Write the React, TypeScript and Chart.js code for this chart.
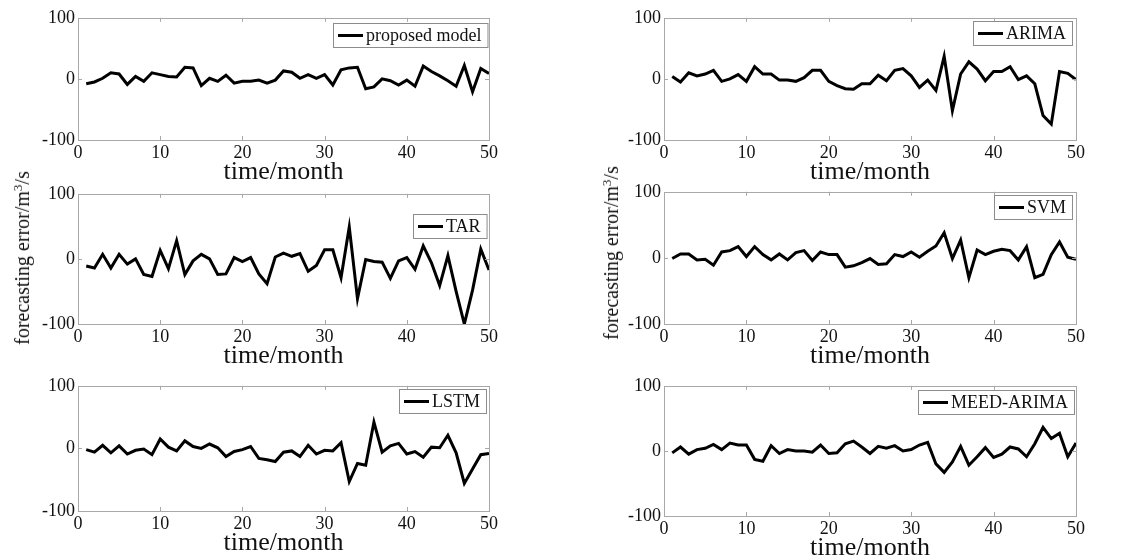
import React, { useEffect, useRef } from "react";
import { Chart, registerables } from "chart.js";

Chart.register(...registerables);

// ---------- data ----------
const months = [
  1, 2, 3, 4, 5, 6, 7, 8, 9, 10, 11, 12, 13, 14, 15, 16, 17, 18, 19, 20, 21, 22, 23, 24, 25,
  26, 27, 28, 29, 30, 31, 32, 33, 34, 35, 36, 37, 38, 39, 40, 41, 42, 43, 44, 45, 46, 47, 48, 49, 50,
];

const proposedModel = [
  -8, -5, 1, 10, 8, -9, 4, -4, 10, 7, 4, 3, 19, 18, -11, 1, -4, 6, -7, -4, -4, -2, -7, -2, 13,
  11, 1, 7, 1, 7, -10, 15, 18, 19, -16, -13, 0, -3, -10, -2, -12, 21, 12, 5, -3, -12, 22, -21, 17, 9,
];

const arima = [
  4, -5, 10, 5, 8, 14, -4, 0, 7, -4, 20, 8, 8, -2, -2, -4, 2, 14, 14, -4, -11, -16, -17, -8, -8,
  6, -3, 14, 17, 5, -14, -2, -19, 37, -52, 8, 28, 16, -3, 12, 12, 20, -1, 5, -8, -60, -74, 12, 9, -1,
];

const tar = [
  -11, -14, 7, -14, 7, -8, 0, -24, -27, 13, -15, 28, -24, -3, 7, 0, -24, -23, 2, -4, 2, -23, -38, 3, 9,
  4, 8, -19, -10, 14, 14, -29, 49, -61, -1, -4, -5, -30, -3, 2, -16, 20, -6, -41, 5, -50, -100, -48, 15, -17,
];

const svm = [
  -1, 6, 6, -3, -2, -11, 9, 11, 17, 2, 17, 5, -3, 6, -3, 8, 11, -4, 9, 5, 5, -14, -12, -7, -1,
  -10, -9, 5, 2, 9, 1, 10, 18, 38, -1, 27, -30, 12, 5, 10, 13, 11, -3, 17, -30, -25, 5, 24, 1, -2,
];

const lstm = [
  -2, -6, 5, -7, 4, -9, -3, -1, -10, 15, 2, -4, 12, 3, 0, 7, 1, -13, -5, -2, 3, -16, -18, -21, -6,
  -4, -13, 5, -9, -3, -4, 9, -53, -24, -27, 42, -6, 4, 8, -9, -5, -14, 2, 1, 21, -7, -56, -33, -10, -8,
];

const meedArima = [
  -3, 6, -5, 2, 4, 10, 2, 12, 9, 9, -13, -16, 8, -4, 2, 0, 0, -2, 9, -4, -3, 11, 15, 6, -4,
  7, 4, 8, 0, 2, 9, 13, -20, -33, -17, 7, -22, -9, 5, -10, -5, 6, 3, -9, 11, 36, 19, 27, -9, 12,
];

const xTickValues = [0, 10, 20, 30, 40, 50];
const yTickValues = [-100, 0, 100];
const xTitle = "time/month";

// ---------- layout / style ----------
const SERIF = '"Liberation Serif", "Times New Roman", Times, serif';
const Y_AXIS_W = 60;
const X_AXIS_H = 48;
const PAD_T = 12;
const PAD_R = 14;

type Panel = {
  label: string;
  values: number[];
  area: { l: number; r: number; t: number; b: number };
  legend: { top: number; right: number };
};

const panels: Panel[] = [
  { label: "proposed model", values: proposedModel, area: { l: 78, r: 489, t: 16, b: 140 }, legend: { top: 5, right: 2 } },
  { label: "ARIMA", values: arima, area: { l: 664, r: 1076, t: 16, b: 140 }, legend: { top: 3, right: 4 } },
  { label: "TAR", values: tar, area: { l: 78, r: 489, t: 192, b: 324 }, legend: { top: 20, right: 2 } },
  { label: "SVM", values: svm, area: { l: 664, r: 1076, t: 190, b: 324 }, legend: { top: 3, right: 4 } },
  { label: "LSTM", values: lstm, area: { l: 78, r: 489, t: 384, b: 511 }, legend: { top: 3, right: 3 } },
  { label: "MEED-ARIMA", values: meedArima, area: { l: 664, r: 1076, t: 384, b: 516 }, legend: { top: 4, right: 2 } },
];

const framePlugin = {
  id: "frameBox",
  afterDraw(chart: any) {
    const { ctx, chartArea } = chart;
    const { left, right, top, bottom } = chartArea;
    const xs = chart.scales.x;
    const ys = chart.scales.y;
    ctx.save();
    ctx.strokeStyle = "#a8a8a8";
    ctx.lineWidth = 1;
    ctx.strokeRect(Math.round(left) + 0.5, Math.round(top) + 0.5, Math.round(right - left), Math.round(bottom - top));
    // inward tick marks
    ctx.beginPath();
    xTickValues.slice(1, -1).forEach((v) => {
      const px = Math.round(xs.getPixelForValue(v)) + 0.5;
      ctx.moveTo(px, bottom);
      ctx.lineTo(px, bottom - 4);
      ctx.moveTo(px, top);
      ctx.lineTo(px, top + 4);
    });
    yTickValues.slice(1, -1).forEach((v) => {
      const py = Math.round(ys.getPixelForValue(v)) + 0.5;
      ctx.moveTo(left, py);
      ctx.lineTo(left + 4, py);
      ctx.moveTo(right, py);
      ctx.lineTo(right - 4, py);
    });
    ctx.stroke();
    ctx.restore();
  },
};

const boxLegendPlugin = {
  id: "boxLegend",
  afterDraw(chart: any, _args: any, opts: any) {
    const { ctx, chartArea } = chart;
    const label = chart.data.datasets[0].label as string;
    ctx.save();
    ctx.font = `18px ${SERIF}`;
    const tw = ctx.measureText(label).width;
    const w = 5 + 25 + 3 + tw + 6;
    const h = 24;
    const x = Math.round(chartArea.right - opts.right - w);
    const y = Math.round(chartArea.top + opts.top);
    ctx.fillStyle = "#ffffff";
    ctx.fillRect(x, y, w, h);
    ctx.strokeStyle = "#8c8c8c";
    ctx.lineWidth = 1;
    ctx.strokeRect(x + 0.5, y + 0.5, w, h);
    ctx.strokeStyle = "#000000";
    ctx.lineWidth = 3;
    ctx.beginPath();
    ctx.moveTo(x + 5, y + h / 2 + 0.5);
    ctx.lineTo(x + 30, y + h / 2 + 0.5);
    ctx.stroke();
    ctx.fillStyle = "#111111";
    ctx.textBaseline = "middle";
    ctx.textAlign = "left";
    ctx.fillText(label, x + 33, y + h / 2 + 1);
    ctx.restore();
  },
};

function PanelChart({ panel }: { panel: Panel }) {
  const ref = useRef<HTMLCanvasElement | null>(null);
  const { l, r, t, b } = panel.area;
  const left = l - Y_AXIS_W;
  const top = t - PAD_T;
  const width = r + PAD_R - left;
  const height = b + X_AXIS_H - top;

  useEffect(() => {
    if (!ref.current) return;
    const chart = new Chart(ref.current, {
      type: "line",
      data: {
        datasets: [
          {
            label: panel.label,
            data: months.map((m, i) => ({ x: m, y: panel.values[i] })),
            borderColor: "#000000",
            borderWidth: 3,
            pointRadius: 0,
            tension: 0,
            fill: false,
          },
        ],
      },
      options: {
        animation: false,
        responsive: false,
        maintainAspectRatio: false,
        devicePixelRatio: 1,
        layout: { padding: { left: 0, top: PAD_T, right: PAD_R, bottom: 0 } },
        plugins: {
          legend: { display: false },
          tooltip: { enabled: false },
          boxLegend: { top: panel.legend.top, right: panel.legend.right },
        } as any,
        scales: {
          x: {
            type: "linear",
            min: 0,
            max: 50,
            afterBuildTicks: (s: any) => {
              s.ticks = xTickValues.map((v) => ({ value: v }));
            },
            afterFit: (s: any) => {
              s.height = X_AXIS_H;
            },
            grid: { display: false, drawTicks: false },
            border: { display: false },
            ticks: {
              font: { family: SERIF, size: 18 },
              color: "#111111",
              padding: 2,
              maxRotation: 0,
              autoSkip: false,
            },
            title: {
              display: true,
              text: xTitle,
              font: { family: SERIF, size: 26 },
              color: "#111111",
              padding: 0,
            },
          },
          y: {
            type: "linear",
            min: -100,
            max: 100,
            afterBuildTicks: (s: any) => {
              s.ticks = yTickValues.map((v) => ({ value: v }));
            },
            afterFit: (s: any) => {
              s.width = Y_AXIS_W;
            },
            grid: { display: false, drawTicks: false },
            border: { display: false },
            ticks: {
              font: { family: SERIF, size: 18 },
              color: "#111111",
              padding: 3,
              autoSkip: false,
            },
          },
        },
      } as any,
      plugins: [framePlugin, boxLegendPlugin],
    });
    return () => chart.destroy();
  }, [panel]);

  return (
    <canvas
      ref={ref}
      width={width}
      height={height}
      style={{ position: "absolute", left, top, width, height }}
    />
  );
}

function YTitle({ cx, cy }: { cx: number; cy: number }) {
  return (
    <div
      style={{
        position: "absolute",
        left: cx,
        top: cy,
        transform: "translate(-50%, -50%) rotate(-90deg)",
        whiteSpace: "nowrap",
        fontFamily: SERIF,
        fontSize: 20,
        lineHeight: "24px",
        color: "#111111",
      }}
    >
      forecasting error/m<sup style={{ fontSize: 13, lineHeight: 0, verticalAlign: "0.55em" }}>3</sup>/s
    </div>
  );
}

export default function App() {
  return (
    <div
      style={{
        position: "absolute",
        left: 0,
        top: 0,
        width: 1134,
        height: 560,
        overflow: "hidden",
        background: "#ffffff",
      }}
    >
      {panels.map((p) => (
        <PanelChart key={p.label} panel={p} />
      ))}
      <YTitle cx={22} cy={258} />
      <YTitle cx={611} cy={253} />
    </div>
  );
}
